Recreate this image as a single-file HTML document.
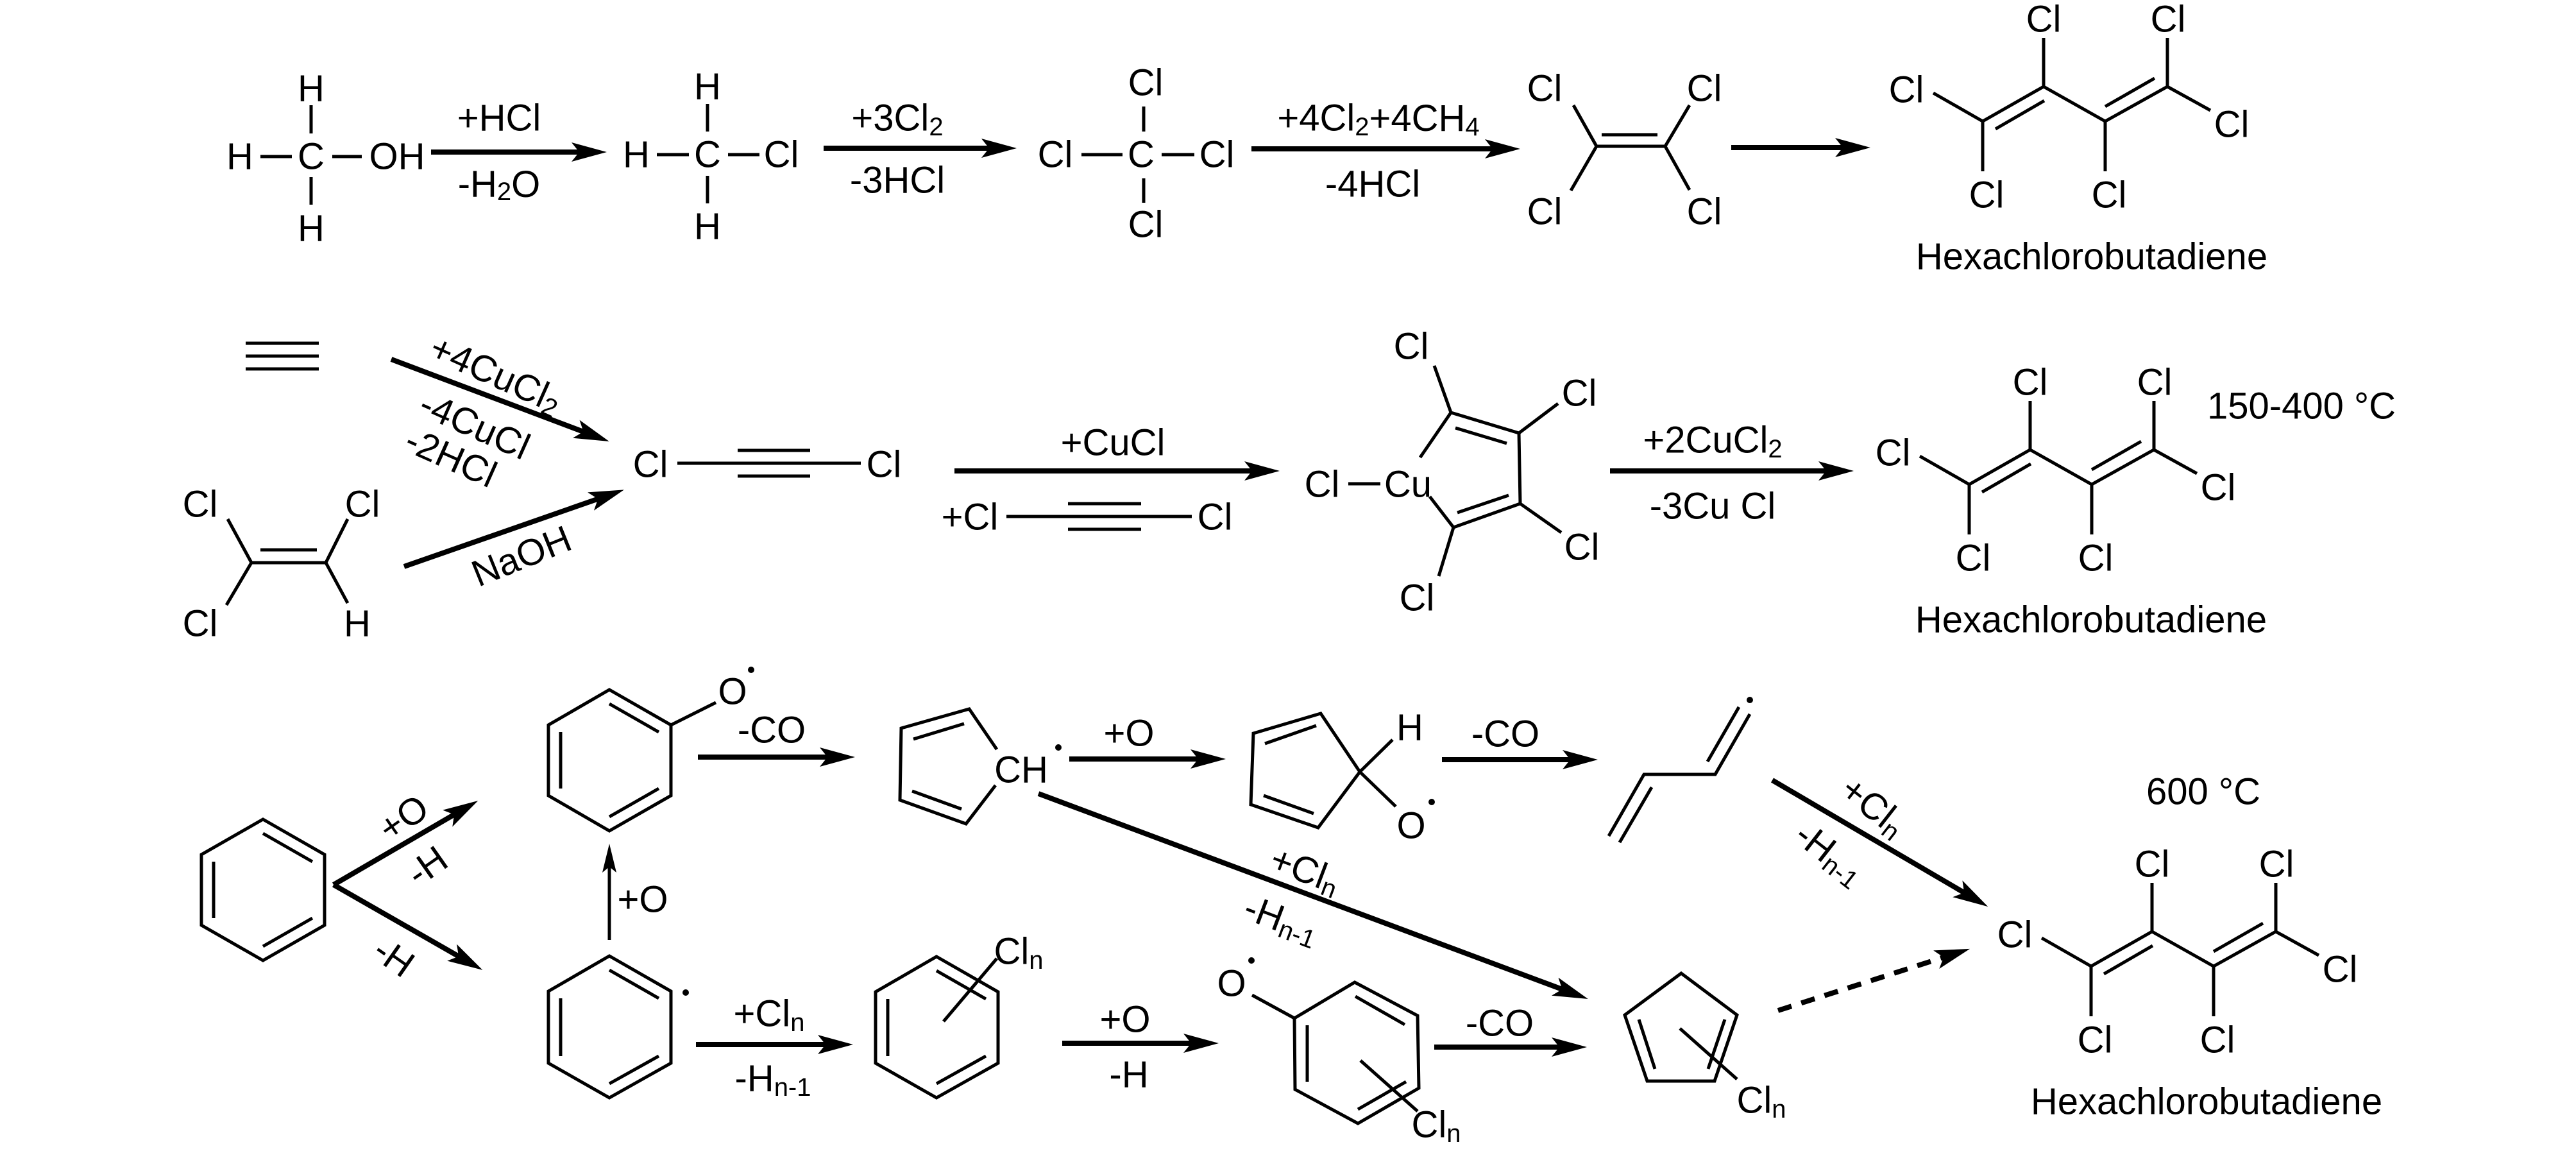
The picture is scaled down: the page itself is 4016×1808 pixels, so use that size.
<!DOCTYPE html>
<html><head><meta charset="utf-8"><style>
html,body{margin:0;padding:0;background:#fff;}
svg{display:block;}
text{font-family:"Liberation Sans",Arial,sans-serif;font-size:58px;fill:#000;dominant-baseline:central;text-anchor:middle;}
.b{stroke:#000;stroke-width:5;fill:none;stroke-linecap:butt;stroke-linejoin:miter;}
.a{stroke:#000;stroke-width:8;fill:none;}
.an{stroke:#000;stroke-width:5;fill:none;}
</style></head><body>
<svg width="4016" height="1808" viewBox="0 0 4016 1808" xmlns="http://www.w3.org/2000/svg">
<defs>
<marker id="ah" markerUnits="userSpaceOnUse" markerWidth="60" markerHeight="34" refX="35" refY="15" orient="auto">
<path d="M0,0 L55,15 L0,30 L12,15 z" fill="#000"/></marker>
<marker id="ahs" markerUnits="userSpaceOnUse" markerWidth="50" markerHeight="30" refX="30" refY="11" orient="auto">
<path d="M0,0 L45,11 L0,22 L9,11 z" fill="#000"/></marker>
</defs>

<!-- ROW 1 -->
<text x="485" y="138">H</text>
<text x="374" y="244">H</text>
<text x="485" y="244">C</text>
<text x="619" y="244">OH</text>
<text x="485" y="356">H</text>
<path class="b" d="M485,164V208M485,276V319M406,244H455M518,244H564"/>
<path class="a" marker-end="url(#ah)" d="M672,237H926"/>
<text x="778" y="184">+HCl</text>
<text x="778" y="287">-H<tspan font-size="40" dy="12">2</tspan><tspan dy="-12">O</tspan></text>

<text x="1103" y="135">H</text>
<text x="992" y="241">H</text>
<text x="1103" y="241">C</text>
<text x="1218" y="241">Cl</text>
<text x="1103" y="353">H</text>
<path class="b" d="M1103,162V205M1103,274V317M1024,241H1074M1135,241H1184"/>
<path class="a" marker-end="url(#ah)" d="M1284,231H1565"/>
<text x="1399" y="184">+3Cl<tspan font-size="40" dy="14">2</tspan></text>
<text x="1399" y="281">-3HCl</text>

<text x="1786" y="129">Cl</text>
<text x="1645" y="241">Cl</text>
<text x="1779" y="241">C</text>
<text x="1897" y="241">Cl</text>
<text x="1786" y="350">Cl</text>
<path class="b" d="M1783,166V205M1783,278V316M1686,241H1750M1811,241H1862"/>
<path class="a" marker-end="url(#ah)" d="M1951,232H2350"/>
<text x="2149" y="184">+4Cl<tspan font-size="40" dy="14">2</tspan><tspan dy="-14">+4CH</tspan><tspan font-size="40" dy="14">4</tspan></text>
<text x="2140" y="287">-4HCl</text>

<text x="2408" y="138">Cl</text>
<text x="2657" y="138">Cl</text>
<text x="2408" y="330">Cl</text>
<text x="2657" y="330">Cl</text>
<path class="b" d="M2453,164L2489,228L2449,297M2489,228H2596M2634,164L2596,228L2634,296M2497,210H2584"/>
<path class="a" marker-end="url(#ah)" d="M2699,230H2896"/>

<g transform="translate(21,-566)">
<path class="b" d="M2993,711L3070,755L3165,701L3261,755L3358,701L3425,738M3070,755V833M3261,755V833M3165,701V625M3358,701V625M3090,767L3166,723M3261,732L3338,688"/>
<text x="2951" y="706">Cl</text><text x="3165" y="596">Cl</text><text x="3359" y="596">Cl</text>
<text x="3458" y="760">Cl</text><text x="3076" y="870">Cl</text><text x="3267" y="870">Cl</text>
<text x="3240" y="966">Hexachlorobutadiene</text>
</g>

<!-- ROW 2 -->
<path class="b" d="M383,535H497M383,555H497M383,575H497"/>
<path class="a" marker-end="url(#ah)" d="M610,560L931,681"/>
<text transform="rotate(24 773 583)" x="773" y="583">+4CuCl<tspan font-size="40" dy="14">2</tspan></text>
<text transform="rotate(24 740 663)" x="740" y="663">-4CuCl</text>
<text transform="rotate(24 703 713)" x="703" y="713">-2HCl</text>
<path class="a" marker-end="url(#ah)" d="M630,883L954,770"/>
<text transform="rotate(-22 813 867)" x="813" y="867">NaOH</text>

<text x="312" y="786">Cl</text>
<text x="565" y="786">Cl</text>
<text x="312" y="972">Cl</text>
<text x="557" y="972">H</text>
<path class="b" d="M355,809L392,877L353,943M392,877H508M542,809L508,877L542,940M406,857H494"/>

<text x="1014" y="724">Cl</text>
<text x="1378" y="724">Cl</text>
<path class="b" d="M1056,722H1342M1150,702H1263M1150,742H1263"/>
<path class="a" marker-end="url(#ah)" d="M1488,734H1975"/>
<text x="1735" y="690">+CuCl</text>
<text x="1512" y="806">+Cl</text>
<text x="1894" y="806">Cl</text>
<path class="b" d="M1569,805H1858M1665,785H1779M1665,825H1779"/>

<text x="2061" y="755">Cl</text>
<text x="2195" y="755">Cu</text>
<path class="b" d="M2102,754H2152"/>
<path class="b" d="M2214,713L2262,643L2368,675L2370,785L2266,822L2229,774M2269,667L2349,691M2272,799L2352,772M2262,643L2236,570M2368,675L2429,629M2370,785L2434,830M2266,822L2243,898"/>
<text x="2200" y="540">Cl</text>
<text x="2462" y="613">Cl</text>
<text x="2466" y="853">Cl</text>
<text x="2209" y="932">Cl</text>

<path class="a" marker-end="url(#ah)" d="M2510,734H2870"/>
<text x="2670" y="686">+2CuCl<tspan font-size="40" dy="14">2</tspan></text>
<text x="2670" y="789">-3Cu Cl</text>

<path class="b" d="M2993,711L3070,755L3165,701L3261,755L3358,701L3425,738M3070,755V833M3261,755V833M3165,701V625M3358,701V625M3090,767L3166,723M3261,732L3338,688"/>
<text x="2951" y="706">Cl</text><text x="3165" y="596">Cl</text><text x="3359" y="596">Cl</text>
<text x="3458" y="760">Cl</text><text x="3076" y="870">Cl</text><text x="3267" y="870">Cl</text>
<text x="3260" y="966">Hexachlorobutadiene</text>
<text x="3441" y="633" style="text-anchor:start">150-400 °C</text>

<!-- ROW 3 -->
<path class="b" d="M410,1277L506,1332L506,1442L410,1497L314,1442L314,1332Z"/>
<path class="b" d="M410,1299L487,1343M487,1431L410,1475M333,1431V1343"/>
<path class="a" marker-end="url(#ah)" d="M520,1379L728,1258"/>
<path class="a" marker-end="url(#ah)" d="M520,1379L735,1502"/>
<text transform="rotate(-35 629 1275)" x="629" y="1275">+O</text>
<text transform="rotate(-35 666 1350)" x="666" y="1350">-H</text>
<text transform="rotate(35 614 1492)" x="614" y="1492">-H</text>

<path class="b" d="M950,1075L1046,1130L1046,1240L950,1295L855,1240L855,1130Z"/>
<path class="b" d="M950,1097L1027,1141M1027,1229L950,1273M874,1229V1141M1046,1130L1116,1095"/>
<text x="1142" y="1078">O</text>
<circle cx="1171" cy="1044" r="5"/>
<path class="an" marker-end="url(#ahs)" d="M950,1465V1330"/>
<text x="1002" y="1402">+O</text>
<path class="b" d="M950,1490L1046,1545L1046,1657L950,1711L855,1657L855,1545Z"/>
<path class="b" d="M950,1512L1027,1556M1027,1646L950,1689M874,1646V1556"/>
<circle cx="1069" cy="1547" r="5"/>

<path class="a" marker-end="url(#ah)" d="M1088,1180H1313"/>
<text x="1203" y="1138">-CO</text>
<path class="a" marker-end="url(#ah)" d="M1085,1628H1310"/>
<text x="1199" y="1580">+Cl<tspan font-size="40" dy="14">n</tspan></text>
<text x="1205" y="1681">-H<tspan font-size="40" dy="14">n-1</tspan></text>

<path class="b" d="M1554,1168L1511,1105L1405,1135L1403,1247L1506,1284L1552,1224M1424,1152L1503,1128M1422,1233L1499,1261"/>
<text x="1592" y="1200">CH</text>
<circle cx="1650" cy="1165" r="5"/>
<path class="a" marker-end="url(#ah)" d="M1667,1183H1891"/>
<text x="1760" y="1143">+O</text>
<path class="a" marker-end="url(#ah)" d="M1619,1237L2457,1550"/>
<text transform="rotate(20.6 2035 1356)" x="2035" y="1356">+Cl<tspan font-size="40" dy="14">n</tspan></text>
<text transform="rotate(20.6 1998 1433)" x="1998" y="1433">-H<tspan font-size="40" dy="14">n-1</tspan></text>

<path class="b" d="M1954,1143L2059,1112L2120,1203L2055,1290L1950,1254Z"/>
<path class="b" d="M1972,1159L2052,1131M1970,1240L2048,1268M2120,1203L2171,1153M2120,1203L2176,1257"/>
<text x="2198" y="1134">H</text>
<text x="2200" y="1287">O</text>
<circle cx="2232" cy="1250" r="5"/>
<path class="a" marker-end="url(#ah)" d="M2248,1184H2471"/>
<text x="2347" y="1144">-CO</text>

<path class="b" d="M2508,1303L2563,1207H2674L2728,1113M2575,1227L2525,1313M2662,1187L2711,1102"/>
<circle cx="2728" cy="1091" r="5"/>
<path class="a" marker-end="url(#ah)" d="M2763,1216L3082,1403"/>
<text transform="rotate(38 2921 1257)" x="2921" y="1257">+Cl<tspan font-size="40" dy="14">n</tspan></text>
<text transform="rotate(38 2853 1330)" x="2853" y="1330">-H<tspan font-size="40" dy="14">n-1</tspan></text>
<text x="3435" y="1234">600 °C</text>

<path class="b" d="M1460,1491L1556,1546L1556,1657L1460,1711L1365,1657L1365,1546Z"/>
<path class="b" d="M1460,1513L1537,1557M1537,1646L1460,1689M1384,1646V1557M1471,1592L1554,1494"/>
<text x="1588" y="1483">Cl<tspan font-size="40" dy="14">n</tspan></text>
<path class="a" marker-end="url(#ah)" d="M1656,1626H1880"/>
<text x="1754" y="1589">+O</text>
<text x="1760" y="1675">-H</text>

<path class="b" d="M2112,1531L2210,1583L2212,1696L2117,1751L2019,1698L2018,1587Z"/>
<path class="b" d="M2113,1553L2190,1597M2192,1686L2117,1729M2038,1686V1598M2018,1587L1952,1551M2121,1653L2210,1732"/>
<text x="1920" y="1533">O</text>
<circle cx="1951" cy="1497" r="5"/>
<text x="2239" y="1753">Cl<tspan font-size="40" dy="14">n</tspan></text>
<path class="a" marker-end="url(#ah)" d="M2236,1632H2454"/>
<text x="2338" y="1595">-CO</text>

<path class="b" d="M2621,1517L2708,1582L2673,1685H2568L2533,1582Z"/>
<path class="b" d="M2555,1589L2580,1666M2689,1589L2663,1666M2619,1603L2708,1682"/>
<text x="2746" y="1715">Cl<tspan font-size="40" dy="14">n</tspan></text>
<path class="a" stroke-dasharray="22,16" marker-end="url(#ah)" d="M2772,1575L3052,1485"/>

<g transform="translate(190,751)">
<path class="b" d="M2993,711L3070,755L3165,701L3261,755L3358,701L3425,738M3070,755V833M3261,755V833M3165,701V625M3358,701V625M3090,767L3166,723M3261,732L3338,688"/>
<text x="2951" y="706">Cl</text><text x="3165" y="596">Cl</text><text x="3359" y="596">Cl</text>
<text x="3458" y="760">Cl</text><text x="3076" y="870">Cl</text><text x="3267" y="870">Cl</text>
<text x="3250" y="966">Hexachlorobutadiene</text>
</g>
</svg>
</body></html>
